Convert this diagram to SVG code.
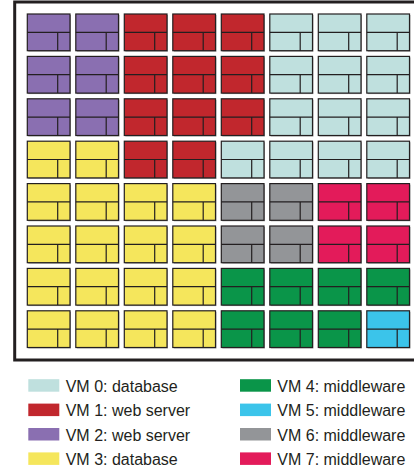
<svg xmlns="http://www.w3.org/2000/svg" xmlns:xlink="http://www.w3.org/1999/xlink" width="414" height="469" viewBox="0 0 414 469">
<style>
.cell{stroke:#231f20;stroke-width:1.2}
.c0{fill:#bfe0de}
.c1{fill:#c1272d}
.c2{fill:#8a6fb1}
.c3{fill:#f5e65c}
.c4{fill:#0a9549}
.c5{fill:#3bc4ea}
.c6{fill:#939598}
.c7{fill:#e31b5a}
.frame{fill:#fff;stroke:#231f20;stroke-width:3}
.lg{font-family:"Liberation Sans",Arial,sans-serif;font-size:16px;fill:#231f20}
</style>
<defs>
<g id="cs">
<rect x="1" y="1" width="42.7" height="36.7" fill="#a5a5a5" stroke="none"/>
<rect x="0" y="0" width="42.7" height="36.7"/>
<path d="M0 18.3H42.7M30.4 18.3V36.7" fill="none"/>
</g>
</defs>
<rect class="frame" x="14.7" y="2" width="420" height="358"/>
<g id="connectors"></g>
<g id="grid">
<g id="r0c0" class="cell c2" transform="translate(27.3,14)"><use xlink:href="#cs"/></g>
<g id="r0c1" class="cell c2" transform="translate(75.8,14)"><use xlink:href="#cs"/></g>
<g id="r0c2" class="cell c1" transform="translate(124.3,14)"><use xlink:href="#cs"/></g>
<g id="r0c3" class="cell c1" transform="translate(172.8,14)"><use xlink:href="#cs"/></g>
<g id="r0c4" class="cell c1" transform="translate(221.3,14)"><use xlink:href="#cs"/></g>
<g id="r0c5" class="cell c0" transform="translate(269.8,14)"><use xlink:href="#cs"/></g>
<g id="r0c6" class="cell c0" transform="translate(318.3,14)"><use xlink:href="#cs"/></g>
<g id="r0c7" class="cell c0" transform="translate(366.8,14)"><use xlink:href="#cs"/></g>

<g id="r1c0" class="cell c2" transform="translate(27.3,56.4)"><use xlink:href="#cs"/></g>
<g id="r1c1" class="cell c2" transform="translate(75.8,56.4)"><use xlink:href="#cs"/></g>
<g id="r1c2" class="cell c1" transform="translate(124.3,56.4)"><use xlink:href="#cs"/></g>
<g id="r1c3" class="cell c1" transform="translate(172.8,56.4)"><use xlink:href="#cs"/></g>
<g id="r1c4" class="cell c1" transform="translate(221.3,56.4)"><use xlink:href="#cs"/></g>
<g id="r1c5" class="cell c0" transform="translate(269.8,56.4)"><use xlink:href="#cs"/></g>
<g id="r1c6" class="cell c0" transform="translate(318.3,56.4)"><use xlink:href="#cs"/></g>
<g id="r1c7" class="cell c0" transform="translate(366.8,56.4)"><use xlink:href="#cs"/></g>

<g id="r2c0" class="cell c2" transform="translate(27.3,98.8)"><use xlink:href="#cs"/></g>
<g id="r2c1" class="cell c2" transform="translate(75.8,98.8)"><use xlink:href="#cs"/></g>
<g id="r2c2" class="cell c1" transform="translate(124.3,98.8)"><use xlink:href="#cs"/></g>
<g id="r2c3" class="cell c1" transform="translate(172.8,98.8)"><use xlink:href="#cs"/></g>
<g id="r2c4" class="cell c1" transform="translate(221.3,98.8)"><use xlink:href="#cs"/></g>
<g id="r2c5" class="cell c0" transform="translate(269.8,98.8)"><use xlink:href="#cs"/></g>
<g id="r2c6" class="cell c0" transform="translate(318.3,98.8)"><use xlink:href="#cs"/></g>
<g id="r2c7" class="cell c0" transform="translate(366.8,98.8)"><use xlink:href="#cs"/></g>

<g id="r3c0" class="cell c3" transform="translate(27.3,141.2)"><use xlink:href="#cs"/></g>
<g id="r3c1" class="cell c3" transform="translate(75.8,141.2)"><use xlink:href="#cs"/></g>
<g id="r3c2" class="cell c1" transform="translate(124.3,141.2)"><use xlink:href="#cs"/></g>
<g id="r3c3" class="cell c1" transform="translate(172.8,141.2)"><use xlink:href="#cs"/></g>
<g id="r3c4" class="cell c0" transform="translate(221.3,141.2)"><use xlink:href="#cs"/></g>
<g id="r3c5" class="cell c0" transform="translate(269.8,141.2)"><use xlink:href="#cs"/></g>
<g id="r3c6" class="cell c0" transform="translate(318.3,141.2)"><use xlink:href="#cs"/></g>
<g id="r3c7" class="cell c0" transform="translate(366.8,141.2)"><use xlink:href="#cs"/></g>

<g id="r4c0" class="cell c3" transform="translate(27.3,183.6)"><use xlink:href="#cs"/></g>
<g id="r4c1" class="cell c3" transform="translate(75.8,183.6)"><use xlink:href="#cs"/></g>
<g id="r4c2" class="cell c3" transform="translate(124.3,183.6)"><use xlink:href="#cs"/></g>
<g id="r4c3" class="cell c3" transform="translate(172.8,183.6)"><use xlink:href="#cs"/></g>
<g id="r4c4" class="cell c6" transform="translate(221.3,183.6)"><use xlink:href="#cs"/></g>
<g id="r4c5" class="cell c6" transform="translate(269.8,183.6)"><use xlink:href="#cs"/></g>
<g id="r4c6" class="cell c7" transform="translate(318.3,183.6)"><use xlink:href="#cs"/></g>
<g id="r4c7" class="cell c7" transform="translate(366.8,183.6)"><use xlink:href="#cs"/></g>

<g id="r5c0" class="cell c3" transform="translate(27.3,226)"><use xlink:href="#cs"/></g>
<g id="r5c1" class="cell c3" transform="translate(75.8,226)"><use xlink:href="#cs"/></g>
<g id="r5c2" class="cell c3" transform="translate(124.3,226)"><use xlink:href="#cs"/></g>
<g id="r5c3" class="cell c3" transform="translate(172.8,226)"><use xlink:href="#cs"/></g>
<g id="r5c4" class="cell c6" transform="translate(221.3,226)"><use xlink:href="#cs"/></g>
<g id="r5c5" class="cell c6" transform="translate(269.8,226)"><use xlink:href="#cs"/></g>
<g id="r5c6" class="cell c7" transform="translate(318.3,226)"><use xlink:href="#cs"/></g>
<g id="r5c7" class="cell c7" transform="translate(366.8,226)"><use xlink:href="#cs"/></g>

<g id="r6c0" class="cell c3" transform="translate(27.3,268.4)"><use xlink:href="#cs"/></g>
<g id="r6c1" class="cell c3" transform="translate(75.8,268.4)"><use xlink:href="#cs"/></g>
<g id="r6c2" class="cell c3" transform="translate(124.3,268.4)"><use xlink:href="#cs"/></g>
<g id="r6c3" class="cell c3" transform="translate(172.8,268.4)"><use xlink:href="#cs"/></g>
<g id="r6c4" class="cell c4" transform="translate(221.3,268.4)"><use xlink:href="#cs"/></g>
<g id="r6c5" class="cell c4" transform="translate(269.8,268.4)"><use xlink:href="#cs"/></g>
<g id="r6c6" class="cell c4" transform="translate(318.3,268.4)"><use xlink:href="#cs"/></g>
<g id="r6c7" class="cell c4" transform="translate(366.8,268.4)"><use xlink:href="#cs"/></g>

<g id="r7c0" class="cell c3" transform="translate(27.3,310.8)"><use xlink:href="#cs"/></g>
<g id="r7c1" class="cell c3" transform="translate(75.8,310.8)"><use xlink:href="#cs"/></g>
<g id="r7c2" class="cell c3" transform="translate(124.3,310.8)"><use xlink:href="#cs"/></g>
<g id="r7c3" class="cell c3" transform="translate(172.8,310.8)"><use xlink:href="#cs"/></g>
<g id="r7c4" class="cell c4" transform="translate(221.3,310.8)"><use xlink:href="#cs"/></g>
<g id="r7c5" class="cell c4" transform="translate(269.8,310.8)"><use xlink:href="#cs"/></g>
<g id="r7c6" class="cell c4" transform="translate(318.3,310.8)"><use xlink:href="#cs"/></g>
<g id="r7c7" class="cell c5" transform="translate(366.8,310.8)"><use xlink:href="#cs"/></g>
</g>
<g id="legend">
<g id="lg0"><rect x="28.3" y="379.2" width="31" height="12.5" fill="#bfe0de"/><text class="lg" x="65.7" y="391.7">VM 0: database</text></g>
<g id="lg1"><rect x="28.3" y="403.6" width="31" height="12.5" fill="#c1272d"/><text class="lg" x="65.7" y="416.1">VM 1: web server</text></g>
<g id="lg2"><rect x="28.3" y="428" width="31" height="12.5" fill="#8a6fb1"/><text class="lg" x="65.7" y="440.5">VM 2: web server</text></g>
<g id="lg3"><rect x="28.3" y="452.4" width="31" height="12.5" fill="#f5e65c"/><text class="lg" x="65.7" y="464.9">VM 3: database</text></g>
<g id="lg4"><rect x="240" y="379.2" width="31" height="12.5" fill="#0a9549"/><text class="lg" x="277.3" y="391.7">VM 4: middleware</text></g>
<g id="lg5"><rect x="240" y="403.6" width="31" height="12.5" fill="#3bc4ea"/><text class="lg" x="277.3" y="416.1">VM 5: middleware</text></g>
<g id="lg6"><rect x="240" y="428" width="31" height="12.5" fill="#939598"/><text class="lg" x="277.3" y="440.5">VM 6: middleware</text></g>
<g id="lg7"><rect x="240" y="452.4" width="31" height="12.5" fill="#e31b5a"/><text class="lg" x="277.3" y="464.9">VM 7: middleware</text></g>
</g>
</svg>
